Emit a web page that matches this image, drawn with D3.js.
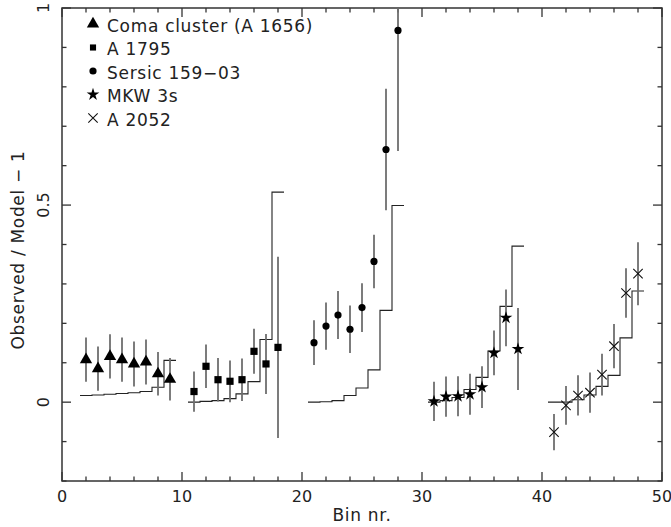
<!DOCTYPE html>
<html>
<head>
<meta charset="utf-8">
<script src="https://cdn.jsdelivr.net/npm/d3@7"></script>
<style>
  html, body { margin: 0; padding: 0; background: #fff; }
  svg text { font-family: "DejaVu Sans", sans-serif; fill: #222; letter-spacing: 0.7px; }
  svg text.tick-label { letter-spacing: 0; }
</style>
</head>
<body>
<svg id="chart" width="671" height="527"></svg>
<script>
// Residuals (observed / model - 1) per radial bin, five clusters
const comaBins   = [2, 3, 4, 5, 6, 7, 8, 9];
const comaValues = [0.108, 0.085, 0.116, 0.108, 0.097, 0.102, 0.072, 0.058];
const comaErrors = [0.056, 0.056, 0.056, 0.056, 0.057, 0.057, 0.055, 0.054];
const comaModel  = [0.017, 0.018, 0.020, 0.022, 0.024, 0.027, 0.038, 0.106];

const a1795Bins   = [11, 12, 13, 14, 15, 16, 17, 18];
const a1795Values = [0.027, 0.091, 0.057, 0.053, 0.057, 0.129, 0.097, 0.139];
const a1795Errors = [0.051, 0.055, 0.055, 0.053, 0.054, 0.057, 0.076, 0.230];
const a1795Model  = [0.000, 0.002, 0.004, 0.009, 0.021, 0.052, 0.159, 0.533];

const sersicBins   = [21, 22, 23, 24, 25, 26, 27, 28];
const sersicValues = [0.151, 0.193, 0.221, 0.185, 0.240, 0.357, 0.641, 0.943];
const sersicErrors = [0.057, 0.060, 0.061, 0.060, 0.062, 0.068, 0.154, 0.306];
const sersicModel  = [0.000, 0.001, 0.004, 0.017, 0.036, 0.082, 0.233, 0.499];

const mkwBins   = [31, 32, 33, 34, 35, 36, 37, 38];
const mkwValues = [0.002, 0.014, 0.015, 0.020, 0.038, 0.125, 0.214, 0.135];
const mkwErrors = [0.050, 0.051, 0.051, 0.052, 0.053, 0.057, 0.072, 0.104];
const mkwModel  = [0.000, 0.004, 0.012, 0.032, 0.063, 0.130, 0.243, 0.396];

const a2052Bins   = [41, 42, 43, 44, 45, 46, 47, 48];
const a2052Values = [-0.076, -0.008, 0.017, 0.024, 0.070, 0.142, 0.277, 0.326];
const a2052Errors = [0.046, 0.049, 0.051, 0.051, 0.053, 0.056, 0.063, 0.080];
const a2052Model  = [0.000, 0.000, 0.006, 0.018, 0.040, 0.068, 0.163, 0.282];

const legendLabels = ["Coma cluster (A 1656)", "A 1795", "Sersic 159\u221203", "MKW 3s", "A 2052"];
const xMajorTicks = [0, 10, 20, 30, 40, 50];
const yMajorTicks = [0, 0.5, 1];
const yTickLabels = ["0", "0.5", "1"];

const series = [
  { bins: comaBins,   values: comaValues,   errors: comaErrors,   model: comaModel,   marker: "triangle" },
  { bins: a1795Bins,  values: a1795Values,  errors: a1795Errors,  model: a1795Model,  marker: "square" },
  { bins: sersicBins, values: sersicValues, errors: sersicErrors, model: sersicModel, marker: "circle" },
  { bins: mkwBins,    values: mkwValues,    errors: mkwErrors,    model: mkwModel,    marker: "star" },
  { bins: a2052Bins,  values: a2052Values,  errors: a2052Errors,  model: a2052Model,  marker: "cross" }
];

const svg = d3.select("#chart");
const plotLeft = 62, plotRight = 662, plotTop = 8, plotBottom = 481;

const x = d3.scaleLinear().domain([0, 50]).range([plotLeft, plotRight]);
const y = d3.scaleLinear().domain([-0.2, 1]).range([plotBottom, plotTop]);

const axisColor = "#333";

svg.append("defs").append("clipPath").attr("id", "plotClip")
  .append("rect").attr("x", plotLeft).attr("y", plotTop)
  .attr("width", plotRight - plotLeft).attr("height", plotBottom - plotTop);

// Frame
svg.append("rect")
  .attr("x", plotLeft).attr("y", plotTop)
  .attr("width", plotRight - plotLeft).attr("height", plotBottom - plotTop)
  .attr("fill", "none").attr("stroke", axisColor).attr("stroke-width", 1.5);

// Inward ticks on all four sides
const ticks = svg.append("g").attr("stroke", axisColor).attr("stroke-width", 1.3);
d3.range(0, 51, 2).forEach(v => {
  const len = v % 10 === 0 ? 9 : 4.5;
  ticks.append("line").attr("x1", x(v)).attr("x2", x(v)).attr("y1", plotBottom).attr("y2", plotBottom - len);
  ticks.append("line").attr("x1", x(v)).attr("x2", x(v)).attr("y1", plotTop).attr("y2", plotTop + len);
});
d3.range(-2, 11).map(d => d / 10).forEach(v => {
  const major = Math.abs(v * 2 - Math.round(v * 2)) < 1e-9;
  const len = major ? 9 : 4.5;
  ticks.append("line").attr("y1", y(v)).attr("y2", y(v)).attr("x1", plotLeft).attr("x2", plotLeft + len);
  ticks.append("line").attr("y1", y(v)).attr("y2", y(v)).attr("x1", plotRight).attr("x2", plotRight - len);
});

// Tick labels
svg.append("g").selectAll("text").data(xMajorTicks).join("text")
  .attr("class", "tick-label")
  .attr("x", d => x(d)).attr("y", 502)
  .attr("text-anchor", "middle").attr("font-size", 16)
  .text(d => d);

svg.append("g").selectAll("text").data(yMajorTicks).join("text")
  .attr("class", "tick-label")
  .attr("transform", d => `translate(49,${y(d)}) rotate(-90)`)
  .attr("text-anchor", "middle").attr("font-size", 16)
  .text((d, i) => yTickLabels[i]);

// Axis titles
svg.append("text").attr("x", x(25)).attr("y", 521)
  .attr("text-anchor", "middle").attr("font-size", 17).text("Bin nr.");
svg.append("text").attr("transform", "translate(24,250) rotate(-90)")
  .attr("text-anchor", "middle").attr("font-size", 17).text("Observed / Model \u2212 1");

// Marker drawing
function drawMarker(g, type, cx, cy, scale) {
  const s = scale || 1;
  if (type === "triangle") {
    g.append("path").attr("d", d3.symbol(d3.symbolTriangle, 66 * s * s)())
      .attr("transform", `translate(${cx},${cy})`).attr("fill", "#000");
  } else if (type === "square") {
    const h = 3.6 * s;
    g.append("rect").attr("x", cx - h).attr("y", cy - h).attr("width", 2 * h).attr("height", 2 * h).attr("fill", "#000");
  } else if (type === "circle") {
    g.append("circle").attr("cx", cx).attr("cy", cy).attr("r", 3.6 * s).attr("fill", "#000");
  } else if (type === "star") {
    g.append("path").attr("d", d3.symbol(d3.symbolStar, 50 * s * s)())
      .attr("transform", `translate(${cx},${cy})`).attr("fill", "#000");
  } else if (type === "cross") {
    const h = 4.7 * s;
    g.append("path").attr("d", `M${cx - h},${cy - h}L${cx + h},${cy + h}M${cx - h},${cy + h}L${cx + h},${cy - h}`)
      .attr("stroke", "#111").attr("stroke-width", 1.1).attr("fill", "none");
  }
}

const plot = svg.append("g").attr("clip-path", "url(#plotClip)");

const stepLine = d3.line().x(d => x(d[0])).y(d => y(d[1])).curve(d3.curveStepAfter);

series.forEach(s => {
  // Model prediction as a step function over each bin
  const pts = s.bins.map((b, i) => [b - 0.5, s.model[i]]);
  pts.push([s.bins[s.bins.length - 1] + 0.5, s.model[s.model.length - 1]]);
  plot.append("path").attr("d", stepLine(pts))
    .attr("fill", "none").attr("stroke", "#222").attr("stroke-width", 1.1);

  // Error bars
  plot.append("g").selectAll("line").data(s.bins).join("line")
    .attr("x1", d => x(d)).attr("x2", d => x(d))
    .attr("y1", (d, i) => y(s.values[i] - s.errors[i]))
    .attr("y2", (d, i) => y(s.values[i] + s.errors[i]))
    .attr("stroke", "#6e6e6e").attr("stroke-width", 1.8);

  // Data points
  const mg = plot.append("g");
  s.bins.forEach((b, i) => drawMarker(mg, s.marker, x(b), y(s.values[i])));
});

// Legend
const legend = svg.append("g");
const legendY = [24, 47.5, 71, 94.5, 118];
series.forEach((s, i) => {
  drawMarker(legend, s.marker, 93, legendY[i], s.marker === "square" ? 0.85 : 1);
  legend.append("text").attr("x", 107).attr("y", legendY[i] + 2)
    .attr("dy", "0.35em").attr("font-size", 17).text(legendLabels[i]);
});
</script>
</body>
</html>
